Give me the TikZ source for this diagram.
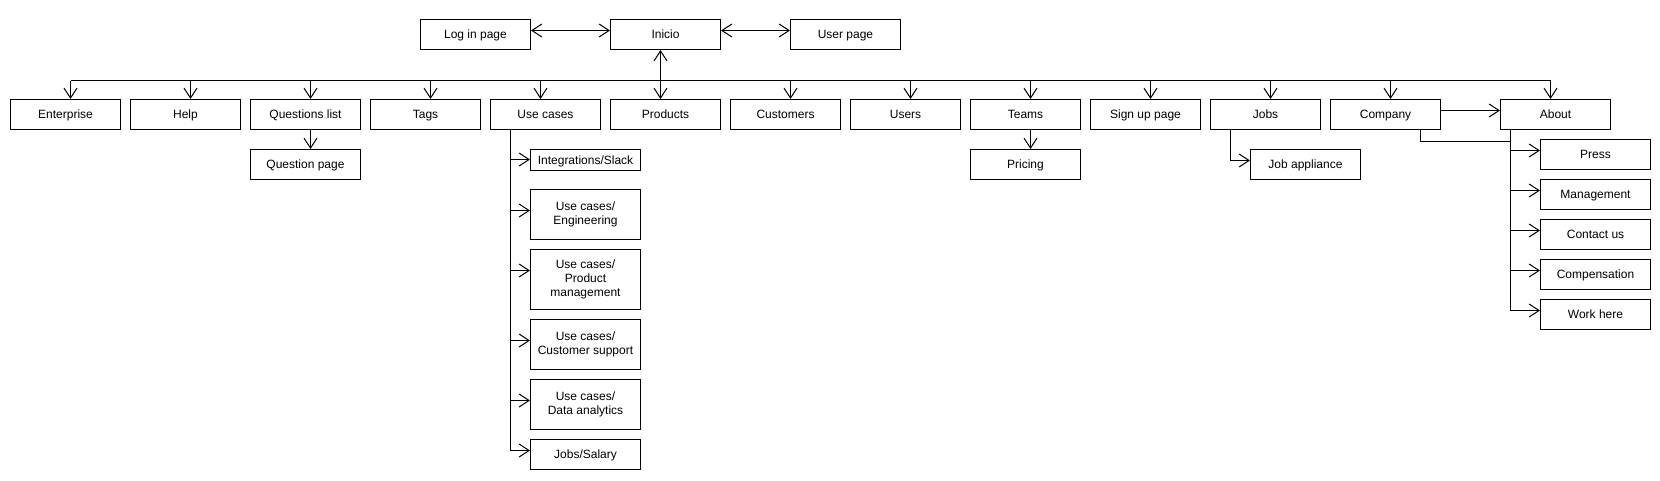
\documentclass[tikz,border=0pt]{standalone}
\usepackage{fontspec}
\setmainfont{Liberation Sans}
\usetikzlibrary{arrows.meta}
\newcommand\boxstrut{\rule[-2.5pt]{0pt}{13.4pt}}
\begin{document}
\begin{tikzpicture}[x=1pt,y=-1pt,line width=1pt,
  box/.style={draw,rectangle,minimum width=110pt,minimum height=30pt,inner sep=0.5pt,align=center,font=\fontsize{12}{14}\selectfont,
    execute at begin node=\boxstrut, execute at end node=\boxstrut},
  arr/.style={-{Straight Barb[length=10pt,width=13pt,line width=1pt]}},
  darr/.style={{Straight Barb[length=10pt,width=13pt,line width=1pt]}-{Straight Barb[length=10pt,width=13pt,line width=1pt]}}]
\fill[white] (0,0) rectangle (1660,480);
\useasboundingbox (0,0) rectangle (1660,480);
% top row
\node[box] (login) at (475.5,34.5) {Log in page};
\node[box] (inicio) at (665.5,34.5) {Inicio};
\node[box] (user) at (845.5,34.5) {User page};
% second row
\node[box] (ent) at (65.5,114.5) {Enterprise};
\node[box] (help) at (185.5,114.5) {Help};
\node[box] (ql) at (305.5,114.5) {Questions list};
\node[box] (tags) at (425.5,114.5) {Tags};
\node[box] (uc) at (545.5,114.5) {Use cases};
\node[box] (prod) at (665.5,114.5) {Products};
\node[box] (cust) at (785.5,114.5) {Customers};
\node[box] (users) at (905.5,114.5) {Users};
\node[box] (teams) at (1025.5,114.5) {Teams};
\node[box] (signup) at (1145.5,114.5) {Sign up page};
\node[box] (jobs) at (1265.5,114.5) {Jobs};
\node[box] (company) at (1385.5,114.5) {Company};
\node[box] (about) at (1555.5,114.5) {About};
% third level
\node[box] (qp) at (305.5,164.5) {Question page};
\node[box] (pricing) at (1025.5,164.5) {Pricing};
\node[box] (ja) at (1305.5,164.5) {Job appliance};
% use cases children
\node[box,minimum height=21pt] (int) at (585.5,160) {Integrations/Slack};
\node[box,minimum height=50pt] (eng) at (585.5,214.5) {Use cases/\\Engineering};
\node[box,minimum height=60pt] (pm) at (585.5,279.5) {Use cases/\\Product\\management};
\node[box,minimum height=50pt] (cs) at (585.5,344.5) {Use cases/\\Customer support};
\node[box,minimum height=50pt] (da) at (585.5,404.5) {Use cases/\\Data analytics};
\node[box] (js) at (585.5,454.5) {Jobs/Salary};
% about children
\node[box] (press) at (1595.5,154.5) {Press};
\node[box] (mgmt) at (1595.5,194.5) {Management};
\node[box] (contact) at (1595.5,234.5) {Contact us};
\node[box] (comp) at (1595.5,274.5) {Compensation};
\node[box] (work) at (1595.5,314.5) {Work here};
% top connectors
\draw[darr] ([yshift=4pt]login.east) -- ([yshift=4pt]inicio.west);
\draw[darr] ([yshift=4pt]inicio.east) -- ([yshift=4pt]user.west);
\draw[darr] ([xshift=-5pt]inicio.south) -- ([xshift=-5pt]prod.north);
% bus
\coordinate (busL) at (70.5,80.5);
\coordinate (busR) at (1550.5,80.5);
\draw (busL) -- (busR);
\foreach \n/\d in {ent/5,help/5,ql/5,tags/5,uc/-5,cust/5,users/5,teams/5,signup/5,jobs/5,company/5,about/-5}{
  \draw[arr] ([xshift=\d pt]\n.north |- busL) -- ([xshift=\d pt]\n.north);
}
% children
\draw[arr] ([xshift=5pt]ql.south) -- ([xshift=5pt]qp.north);
\draw[arr] ([xshift=5pt]teams.south) -- ([xshift=5pt]pricing.north);
\draw[arr] ([xshift=-35pt]jobs.south) |- ([yshift=4pt]ja.west);
\draw[arr] ([yshift=4pt]company.east) -- ([yshift=4pt]about.west);
% use cases branch
\coordinate (ucx) at ([xshift=-35pt]uc.south);
\draw[arr] (ucx) |- ([yshift=0.5pt]int.west);
\draw[arr] (ucx) |- ([yshift=4pt]eng.west);
\draw[arr] (ucx) |- ([yshift=9pt]pm.west);
\draw[arr] (ucx) |- ([yshift=4pt]cs.west);
\draw[arr] (ucx) |- ([yshift=4pt]da.west);
\draw[arr] (ucx) |- ([yshift=4pt]js.west);
% about branch
\coordinate (abx) at ([xshift=-45pt]about.south);
\draw ([xshift=35pt]company.south) -- ++(0,11) -| (abx);
\foreach \n in {press,mgmt,contact,comp,work}{
  \draw[arr] (abx) |- ([yshift=4pt]\n.west);
}
\end{tikzpicture}
\end{document}
